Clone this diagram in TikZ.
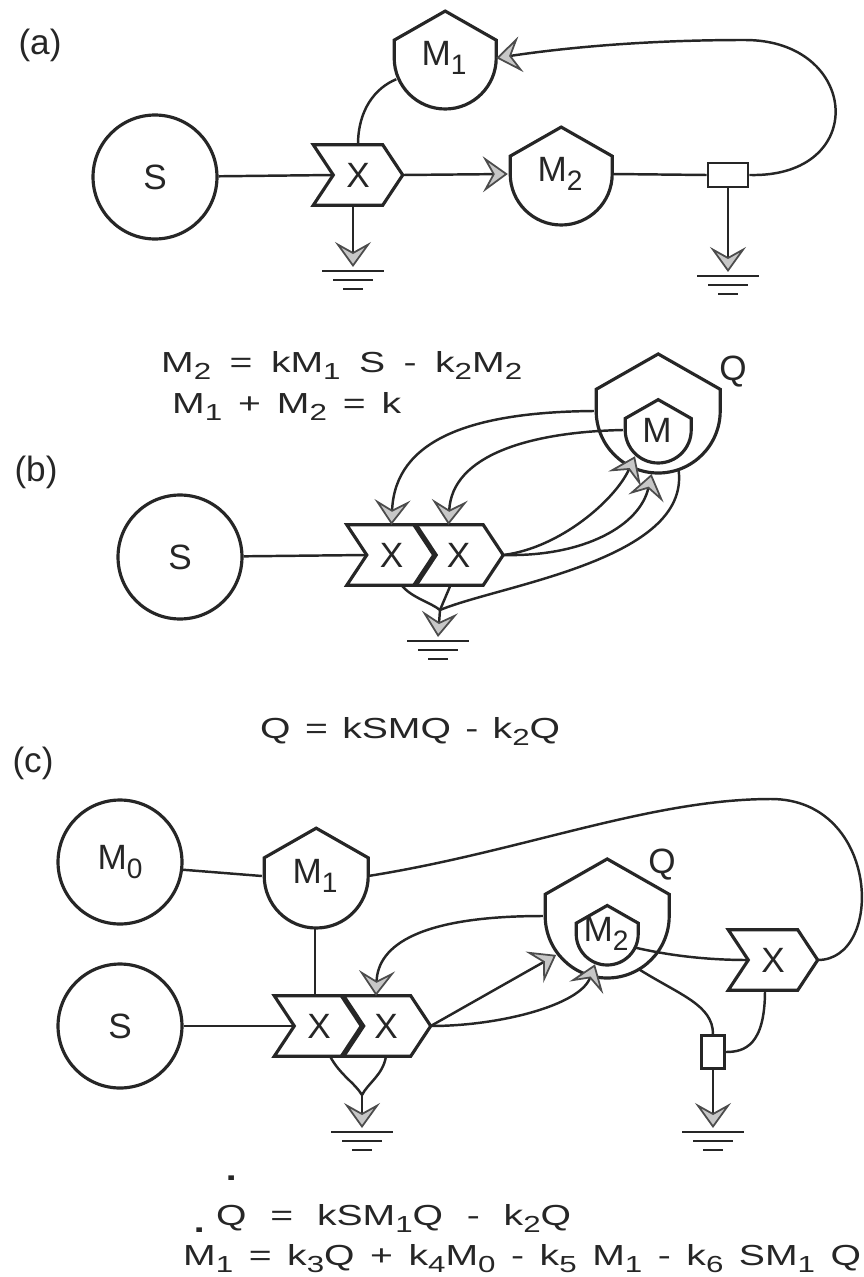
\documentclass[tikz,border=0pt]{standalone}
\usepackage{fontspec}
\setmainfont{Liberation Sans}
\newfontfamily\eqfont{Liberation Sans}[FakeStretch=1.35]
\usepackage{graphicx}
\usetikzlibrary{arrows.meta,calc}

\newcommand{\sub}[1]{\raisebox{-0.25em}{\scalebox{0.8}{#1}}}
\newcommand{\rate}[2]{\ooalign{#1\cr\hidewidth\raisebox{#2}{\scalebox{1.5}{.}}\hidewidth\cr}}
\newcommand{\lbl}{\fontsize{20}{24}\selectfont}
\newcommand{\eqn}{\eqfont\fontsize{16.5}{20}\selectfont}

\begin{document}
\begin{tikzpicture}[
    x=0.02cm, y=-0.02cm, line width=1.4pt, color=black!85, font=\lbl,
    pool/.style={circle, draw, line width=1.8pt, minimum size=2.48cm, inner sep=0pt},
    tank/.style={circle, inner sep=0pt, minimum size=#1*0.04cm,
        append after command={\pgfextra{\draw[line width=1.8pt] (\tikzlastnode.east)
            arc[start angle=0, end angle=-180, radius=#1*0.02cm]
            -- ++(0,{-0.35*#1}) -- ++(#1,{-0.57*#1}) -- ++(#1,{0.57*#1}) -- cycle;}}},
    gate/.style={minimum width=1.74cm, minimum height=1.16cm, inner sep=0pt,
        append after command={\pgfextra{\draw[line width=1.8pt] (\tikzlastnode.north west)
            -- ($(\tikzlastnode.north east)+(-20,0)$) -- (\tikzlastnode.east)
            -- ($(\tikzlastnode.south east)+(-20,0)$) -- (\tikzlastnode.south west)
            -- ($(\tikzlastnode.west)+(20,0)$) -- cycle;}}},
    switchbox/.style={draw, line width=1.5pt, inner sep=0pt},
    heatsink/.style={coordinate,
        append after command={\pgfextra{\draw[line width=1.4pt] (\tikzlastnode)
            ++(-31,4) -- ++(62,0) ++(-51,9) -- ++(40,0) ++(-30,9) -- ++(20,0);}}},
    flow/.style={-{Stealth[length=0.5cm, width=0.72cm, inset=0.2cm, fill=black!22, color=black!70, line width=1pt]}},
    eqline/.style={font=\eqn, inner sep=0pt, anchor=base west},
    tag/.style={inner sep=0pt}
]
\useasboundingbox (0,0) rectangle (864,1277);

% (a)
\node[tag] (taga) at (40,45) {(a)};
\node[pool] (Sa) at (155,177) {S};
\node[gate] (Xa) at (358,175) {X};
\node[tank=51] (M1a) at (444,58) {M\sub1};
\node[tank=51] (M2a) at (560,174) {M\sub2};
\node[switchbox, minimum width=0.8cm, minimum height=0.48cm] (Ba) at (728,175) {};
\coordinate[heatsink] (Ka1) at (353,267);
\coordinate[heatsink] (Ka2) at (728,272);
\draw (Sa) -- ($(Xa.west)+(20,0)$);
\draw (Xa.north) .. controls (358,110) and (375,88) .. (M1a.204);
\draw[flow] (Xa.east) -- (M2a.west);
\draw (M2a.east) -- (Ba.west);
\draw[flow] (Ba.east) .. controls (870,178) and (860,40) .. (745,40) .. controls (650,40) and (570,47) .. (M1a.east);
\draw[flow] (Xa.south -| Ka1) -- (Ka1);
\draw[flow] (Ba.south) -- (Ka2);
\node[eqline] (eqa1) at (160,372) {\makebox[7.22cm][s]{M\sub2 = kM\sub1 S - k\sub2M\sub2}};
\node[eqline] (eqa2) at (171,413) {\makebox[4.58cm][s]{M\sub1 + M\sub2 = k}};

% (b)
\node[tag] (tagb) at (36,472) {(b)};
\node[pool] (Sb) at (180,557) {S};
\node[gate] (Xb1) at (391.5,555) {X};
\node[gate] (Xb2) at (458.5,555) {X};
\node[tank=62] (Qb) at (657,411) {};
\node[tank=33] (Mb) at (657,430) {M};
\node[tag] (Qblab) at (733,372) {Q};
\coordinate (Jb) at (440,610);
\coordinate[heatsink] (Kb) at (438,637);
\draw (Sb) -- ($(Xb1.west)+(20,0)$);
\draw[flow] (Qb.west) .. controls (470,412) and (395,440) .. (Xb1.north);
\draw[flow] (Mb.west) .. controls (530,432) and (452,455) .. ($(Xb2.north)+(-10,0)$);
\draw[flow] (Xb2.east) .. controls (560,548) and (615,500) .. (Mb.230);
\draw[flow] (Xb2.east) .. controls (585,557) and (640,525) .. (Qb.265);
\draw (Qb.-70) .. controls (690,560) and (500,585) .. (Jb);
\draw ($(Xb1.south)+(10,0)$) .. controls (412,598) and (430,602) .. (Jb);
\draw ($(Xb2.south)+(-8,0)$) -- (Jb);
\draw[flow] (Jb) -- (Kb);
\node[eqline] (eqb) at (259,738) {\makebox[6cm][s]{Q = kSMQ - k\sub2Q}};

% (c)
\node[tag] (tagc) at (33,763) {(c)};
\node[pool] (M0c) at (120,862) {M\sub0};
\node[tank=52] (M1c) at (315,876) {M\sub1};
\node[pool] (Sc) at (120,1026) {S};
\node[gate] (Xc1) at (319,1026) {X};
\node[gate] (Xc2) at (386,1026) {X};
\node[tank=62] (Qc) at (606,916) {};
\node[tank=31] (M2c) at (606,934) {M\sub2};
\node[tag] (Qclab) at (662,865) {Q};
\node[gate] (Xc3) at (773,960) {X};
\node[switchbox, minimum width=0.46cm, minimum height=0.66cm] (Bc) at (713,1052) {};
\coordinate (Jc) at (362,1095);
\coordinate[heatsink] (Kc1) at (362,1128);
\coordinate[heatsink] (Kc2) at (713,1128);
\draw (M0c.-7) -- (M1c.west);
\draw (M1c.south) -- (M1c.south |- Xc1.north);
\draw (Sc) -- ($(Xc1.west)+(20,0)$);
\draw (M1c.east) .. controls (520,852) and (650,799) .. (771,799) .. controls (880,799) and (885,960) .. (Xc3.east);
\draw[flow] (Qc.west) .. controls (420,916) and (378,945) .. ($(Xc2.north)+(-10,0)$);
\draw[flow] (Xc2.east) -- (Qc.218);
\draw[flow] (Xc2.east) .. controls (500,1026) and (580,1005) .. (M2c.250);
\draw (M2c.-25) .. controls (680,958) and (720,960) .. ($(Xc3.west)+(20,0)$);
\draw (Qc.-58) .. controls (680,995) and (713,1005) .. (Bc.north);
\draw ($(Xc3.south)+(-8,0)$) .. controls (765,1045) and (745,1052) .. (Bc.east);
\draw[flow] (Bc.south) -- (Kc2);
\draw ($(Xc1.south)+(11,0)$) .. controls (340,1075) and (355,1083) .. (Jc);
\draw (Xc2.south) .. controls (383,1075) and (368,1083) .. (Jc);
\draw[flow] (Jc) -- (Kc1);
\node[eqline] (eqc1) at (215,1225) {\makebox[7.1cm][s]{\rate{Q}{1.55em} = kSM\sub1Q - k\sub2Q}};
\node[eqline] (eqc2) at (182,1265) {\makebox[13.56cm][s]{\rate{M}{1.12em}\sub1 = k\sub3Q + k\sub4M\sub0 - k\sub5 M\sub1 - k\sub6 SM\sub1 Q}};
\end{tikzpicture}
\end{document}
